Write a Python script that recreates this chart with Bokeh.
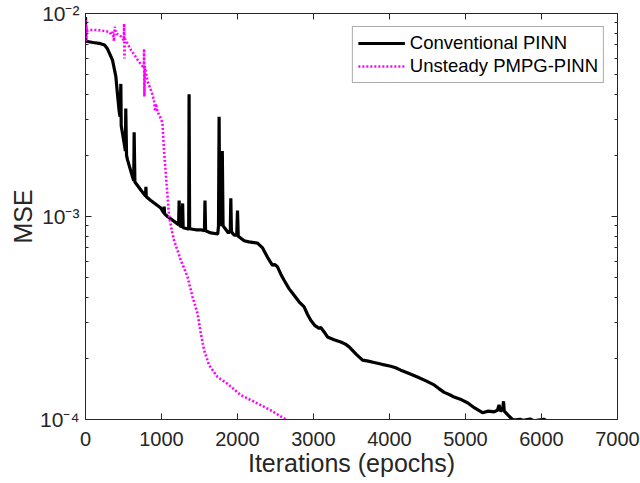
from bokeh.plotting import figure
from bokeh.models import (LinearAxis, LogAxis, FixedTicker, Legend, LegendItem)
from bokeh.embed import file_html
from bokeh.resources import INLINE

# ---- data ----
conv_epochs = [0, 5, 100, 200, 250, 289, 355, 399, 421, 443, 455, 465, 470, 508, 525, 530, 540, 553,
               618, 635, 640, 650, 728, 790, 795, 800, 859, 991, 1030, 1035, 1040, 1079, 1211,
               1225, 1232, 1240, 1270, 1278, 1285, 1340, 1358, 1363, 1370, 1450, 1517, 1565, 1572,
               1580, 1650, 1740, 1750, 1758, 1766, 1790, 1800, 1810, 1880, 1905, 1912, 1920, 1955,
               1990, 2000, 2010, 2087, 2150, 2263, 2330, 2395, 2430, 2461, 2490, 2526, 2570, 2613,
               2680, 2745, 2810, 2877, 2920, 2964, 3020, 3074, 3096, 3140, 3184, 3270, 3359, 3420,
               3469, 3560, 3645, 3720, 3797, 3900, 4017, 4080, 4149, 4250, 4368, 4480, 4587, 4650,
               4720, 4800, 4850, 4950, 5026, 5120, 5224, 5300, 5376, 5420, 5442, 5460, 5490, 5500,
               5510, 5560, 5618, 5660, 5720, 5760, 5850, 5900, 6030, 6060]
conv_mse = [0.0096, 0.0073, 0.0072, 0.0071, 0.0070, 0.0067, 0.0059, 0.0049, 0.0040, 0.0033, 0.0031,
            0.0045, 0.0028, 0.0023, 0.0021, 0.0034, 0.0020, 0.0019,
            0.00157, 0.00150, 0.0026, 0.00148, 0.00135, 0.00126, 0.0014, 0.00125, 0.0012, 0.0011,
            0.00104, 0.00112, 0.00103, 0.0010, 0.00092,
            0.00091, 0.0012, 0.00090, 0.00089, 0.00116, 0.00088, 0.00087, 0.00087, 0.0040, 0.00087,
            0.00086, 0.00086, 0.00085, 0.0012,
            0.00085, 0.00083, 0.00082, 0.00090, 0.0031, 0.00095, 0.00090, 0.0021, 0.00090, 0.00083,
            0.00085, 0.00123, 0.00084, 0.00081,
            0.00081, 0.00107, 0.00080, 0.00076, 0.00075, 0.00074, 0.00070, 0.00063, 0.00060,
            0.000575, 0.00058, 0.000565, 0.00052, 0.000485,
            0.00044, 0.000409, 0.00038, 0.000359, 0.00033, 0.000308, 0.00029, 0.000281, 0.000284,
            0.00027, 0.000255, 0.000247, 0.000241, 0.000235,
            0.000228, 0.00021, 0.000196, 0.000194, 0.000191, 0.000187, 0.000183, 0.00018, 0.000175,
            0.000169, 0.000162, 0.000155, 0.000148, 0.000142,
            0.000136, 0.000132, 0.000129, 0.000125, 0.000121, 0.000114, 0.000108, 0.00011,
            0.000109, 0.000111, 0.000118, 0.00011, 0.000112, 0.000123,
            0.00011, 0.000105, 0.0001, 0.0000995, 0.0001003, 0.000099, 0.0001005, 0.0000985,
            0.0001003, 0.000099]

pmpg_epochs = [0, 3, 8, 15, 50, 150, 250, 320, 334, 360, 375, 385, 400, 440, 470, 490, 505, 508,
               512, 520, 553, 600, 650, 700, 750, 768, 771, 775, 780, 800, 820, 850, 880, 903,
               915, 925, 947, 980, 1012, 1034, 1066, 1100, 1145, 1166, 1254, 1342, 1408, 1474,
               1518, 1561, 1627, 1737, 1868, 2043, 2263, 2438, 2636, 2660]
pmpg_mse = [0.0093, 0.0073, 0.0088, 0.0082, 0.0083, 0.0083, 0.0082, 0.0081, 0.0079, 0.0081,
            0.0073, 0.0086, 0.0080, 0.0078, 0.0077, 0.0075, 0.0074, 0.0089,
            0.0060, 0.0075, 0.0071, 0.0066, 0.0062, 0.0058, 0.0055, 0.0054, 0.0067, 0.0039,
            0.0055, 0.0050, 0.0046, 0.0043, 0.0040, 0.0037,
            0.0033, 0.0036, 0.0033, 0.0031, 0.0029, 0.0021, 0.00146, 0.0010, 0.00082, 0.00076,
            0.00061, 0.000505, 0.000402, 0.000333,
            0.000265, 0.000219, 0.000185, 0.000162, 0.00015, 0.000132, 0.00012, 0.000111,
            0.0001, 0.0000995]

x_ticks = [0, 1000, 2000, 3000, 4000, 5000, 6000, 7000]
y_ticks = [1e-4, 1e-3, 1e-2]
y_tick_labels = ["10\u207b\u2074", "10\u207b\u00b3", "10\u207b\u00b2"]
series_names = ["Conventional PINN", "Unsteady PMPG-PINN"]
x_label = "Iterations (epochs)"
y_label = "MSE"

# ---- styling ----
FONT = "Liberation Sans"
AX = "#262626"
minor_y = [m * 10.0 ** e for e in (-4, -3) for m in range(2, 10)]

p = figure(width=640, height=483, y_axis_type="log",
           x_range=(0, 7000), y_range=(1e-4, 1e-2),
           output_backend="svg", toolbar_location=None,
           min_border_left=85, min_border_right=23, min_border_top=13, min_border_bottom=64,
           background_fill_color="white", border_fill_color="white")
p.grid.visible = False
p.outline_line_color = AX

l1 = p.line(conv_epochs, conv_mse, line_color="black", line_width=3.2)
l2 = p.line(pmpg_epochs, pmpg_mse, line_color="#ff00ff", line_width=2.6, line_dash="2 2")

def style_axis(ax):
    ax.axis_line_color = AX
    ax.major_tick_line_color = AX
    ax.minor_tick_line_color = AX
    ax.major_tick_in = 6
    ax.major_tick_out = 0
    ax.minor_tick_in = 3
    ax.minor_tick_out = 0
    ax.major_label_text_color = AX
    ax.major_label_text_font = FONT
    ax.axis_label_text_font = FONT
    ax.axis_label_text_color = AX
    ax.axis_label_text_font_style = "normal"

xa = p.xaxis[0]
xa.ticker = FixedTicker(ticks=x_ticks)
style_axis(xa)
xa.major_label_text_font_size = "20px"
xa.major_label_standoff = 12
xa.axis_label = x_label
xa.axis_label_text_font_size = "25px"
xa.axis_label_standoff = 0

ya = p.yaxis[0]
ya.ticker = FixedTicker(ticks=y_ticks, minor_ticks=minor_y)
style_axis(ya)
ya.major_label_text_font_size = "21px"
ya.major_label_standoff = 6
ya.major_label_overrides = {t: s for t, s in zip(y_ticks, y_tick_labels)}
ya.axis_label = y_label
ya.axis_label_text_font_size = "25px"
ya.axis_label_standoff = 0

top = LinearAxis(ticker=FixedTicker(ticks=x_ticks))
style_axis(top)
top.major_label_overrides = {t: "" for t in x_ticks}
top.major_label_standoff = 0
top.major_label_text_font_size = "1px"
p.add_layout(top, "above")

right = LogAxis(ticker=FixedTicker(ticks=y_ticks, minor_ticks=minor_y))
style_axis(right)
right.major_label_overrides = {t: "" for t in y_ticks}
right.major_label_standoff = 0
right.major_label_text_font_size = "1px"
p.add_layout(right, "right")

legend = Legend(items=[LegendItem(label=series_names[0], renderers=[l1]),
                       LegendItem(label=series_names[1], renderers=[l2])],
                location="top_right", margin=13, padding=5, spacing=1,
                glyph_width=47, glyph_height=20, label_height=20, label_standoff=5,
                label_text_font=FONT, label_text_font_size="18.5px", label_text_color="black",
                border_line_color="#555555", border_line_width=1,
                background_fill_color="white", background_fill_alpha=1)
p.add_layout(legend, "center")

open("out.html", "w").write(file_html(p, INLINE))
